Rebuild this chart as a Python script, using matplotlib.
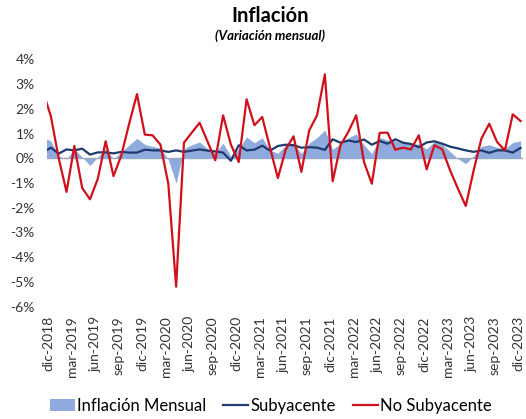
import matplotlib.pyplot as plt
import matplotlib.transforms as mtransforms
import numpy as np

# meses: nov-2018 (parcialmente fuera del área) hasta dic-2023
meses_abr = ["ene", "feb", "mar", "abr", "may", "jun",
             "jul", "ago", "sep", "oct", "nov", "dic"]
periodos = ["nov-2018"] + [f"{m}-{a}" for a in range(2019, 2024) for m in meses_abr]
periodos.insert(1, "dic-2018")

inflacion_mensual = [
    0.85, 0.70,
    0.09, -0.03, 0.39, 0.05, -0.29, 0.06, 0.38, -0.02, 0.26, 0.54, 0.81, 0.56,
    0.48, 0.42, -0.05, -1.01, 0.38, 0.55, 0.66, 0.39, 0.23, 0.61, 0.08, 0.38,
    0.86, 0.63, 0.83, 0.33, 0.20, 0.53, 0.59, 0.19, 0.62, 0.84, 1.14, 0.36,
    0.59, 0.83, 0.99, 0.54, 0.18, 0.84, 0.74, 0.70, 0.62, 0.57, 0.58, 0.38,
    0.68, 0.56, 0.27, -0.02, -0.22, 0.10, 0.48, 0.55, 0.44, 0.39, 0.64, 0.71,
]
subyacente = [
    0.24, 0.43,
    0.19, 0.36, 0.32, 0.39, 0.15, 0.24, 0.24, 0.20, 0.26, 0.23, 0.23, 0.35,
    0.32, 0.32, 0.26, 0.32, 0.26, 0.31, 0.36, 0.31, 0.28, 0.23, -0.10, 0.53,
    0.32, 0.35, 0.51, 0.31, 0.50, 0.55, 0.53, 0.43, 0.45, 0.43, 0.34, 0.77,
    0.63, 0.72, 0.66, 0.76, 0.55, 0.70, 0.59, 0.77, 0.63, 0.58, 0.45, 0.64,
    0.69, 0.59, 0.47, 0.40, 0.32, 0.26, 0.32, 0.22, 0.32, 0.32, 0.23, 0.42,
]
no_subyacente = [
    2.70, 1.70,
    0.00, -1.36, 0.50, -1.20, -1.66, -0.82, 0.69, -0.72, 0.12, 1.40, 2.60, 0.96,
    0.93, 0.55, -1.03, -5.20, 0.63, 1.04, 1.44, 0.69, -0.08, 1.74, 0.55, -0.15,
    2.39, 1.34, 1.67, 0.42, -0.80, 0.36, 0.89, -0.55, 1.13, 1.74, 3.40, -0.93,
    0.53, 1.07, 1.74, -0.15, -1.03, 1.03, 1.04, 0.35, 0.43, 0.36, 0.93, -0.45,
    0.53, 0.36, -0.49, -1.23, -1.93, -0.50, 0.80, 1.40, 0.66, 0.32, 1.78, 1.51,
]
y_ticks = [4, 3, 2, 1, 0, -1, -2, -3, -4, -5, -6]

plt.rcParams['font.family'] = ['Lato', 'DejaVu Sans']

x = np.arange(len(periodos)) - 1  # dic-2018 en 0

fig = plt.figure(figsize=(5.26, 4.19), dpi=100)
ax = fig.add_axes([47.2 / 526, 112.5 / 419, 476.1 / 526, 247 / 419])

ax.axhline(0, color='#A6A6A6', lw=1, zorder=1)
ax.fill_between(x, 0, inflacion_mensual, color='#8FAADC', lw=0,
                label="Inflación Mensual", zorder=2)
ax.plot(x, subyacente, color='#1F3A6E', lw=1.6, label="Subyacente", zorder=3)
ax.plot(x, no_subyacente, color='#D0101A', lw=1.6, label="No Subyacente", zorder=4)

ax.set_xlim(-0.47, 60.35)
ax.set_ylim(-6, 4)

idx = [i for i in range(len(periodos)) if x[i] >= 0 and x[i] % 3 == 0]
ax.set_xticks(x[idx])
ax.set_xticklabels([periodos[i] for i in idx], rotation=90, fontsize=10,
                   color='#333333')
ax.set_yticks(y_ticks)
ax.set_yticklabels([f"{v}%" for v in y_ticks], fontsize=10, color='#333333')
ax.tick_params(axis='x', length=0, pad=7)
ax.tick_params(axis='y', length=0, pad=9)
for s in ax.spines.values():
    s.set_visible(False)

# etiquetas rotadas un poco a la izquierda, como en Excel
shift = mtransforms.ScaledTranslation(-2.5 / 100, 0, fig.dpi_scale_trans)
for lbl in ax.get_xticklabels():
    lbl.set_transform(lbl.get_transform() + shift)

fig.text(0.513, 0.962, "Inflación", ha='center', va='center',
         fontsize=14.5, fontweight='bold')
fig.text(0.513, 0.915, "(Variación mensual)", ha='center', va='center',
         fontsize=9.5, fontweight='bold', style='italic')

fig.legend(loc='center', bbox_to_anchor=(0.515, 0.031), ncol=3, frameon=False,
           fontsize=12, handlelength=1.5, handletextpad=0.15, columnspacing=1.0)

fig.savefig("out.png", dpi=100)
